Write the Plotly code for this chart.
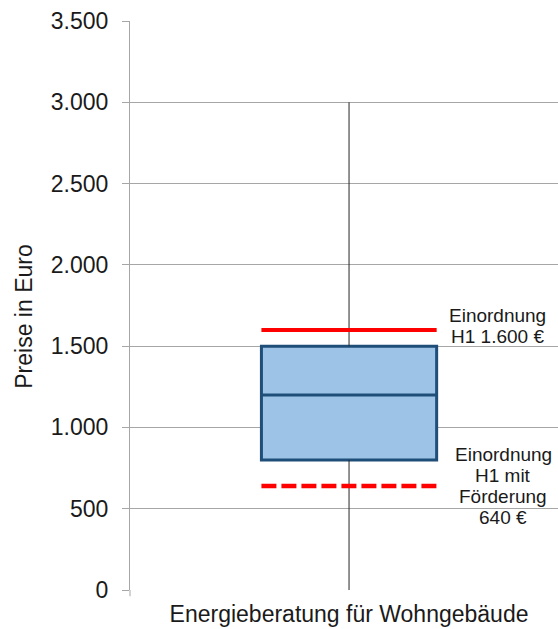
import plotly.graph_objects as go

# Price distribution for energy consulting of residential buildings (EUR)
category = "Energieberatung für Wohngebäude"
whisker_low = 0
q1 = 800
median = 1200
q3 = 1500
whisker_high = 3000

# Reference prices
ref_h1 = 1600
ref_h1_funded = 640
ref_h1_lines = ["Einordnung", "H1 1.600 €"]
ref_h1_funded_lines = ["Einordnung", "H1 mit", "Förderung", "640 €"]

y_ticks = [0, 500, 1000, 1500, 2000, 2500, 3000, 3500]
y_ticktext = ["0", "500", "1.000", "1.500", "2.000", "2.500", "3.000", "3.500"]
y_title = "Preise in Euro"

FONT = "Liberation Sans, Arial, sans-serif"
TEXT = "#1a1a1a"
BOX_FILL = "#9DC3E6"
BOX_LINE = "#1F4E79"
RED = "#FF0000"
GRID = "#A6A6A6"

half = 0.2  # half box width in axis units

fig = go.Figure()

# whiskers (below and above the box)
fig.add_trace(go.Scatter(
    x=[0, 0, None, 0, 0], y=[whisker_low, q1, None, q3, whisker_high], mode="lines",
    line=dict(color="#262626", width=1), hoverinfo="skip", showlegend=False,
))

# interquartile box
fig.add_trace(go.Bar(
    x=[0], y=[q3 - q1], base=[q1], width=[2 * half],
    marker=dict(color=BOX_FILL, line=dict(color=BOX_LINE, width=3)),
    showlegend=False, hoverinfo="skip",
))

# median
fig.add_trace(go.Scatter(
    x=[-half, half], y=[median, median], mode="lines",
    line=dict(color=BOX_LINE, width=3), hoverinfo="skip", showlegend=False,
))

# reference price lines
fig.add_trace(go.Scatter(
    x=[-half, half], y=[ref_h1, ref_h1], mode="lines",
    line=dict(color=RED, width=4), hoverinfo="skip", showlegend=False,
))
fig.add_trace(go.Scatter(
    x=[-half, half + 0.008], y=[ref_h1_funded, ref_h1_funded], mode="lines",
    line=dict(color=RED, width=4.5, dash="15px,5px"), hoverinfo="skip", showlegend=False,
))


def label_block(lines, x, y, top_shift, spacing=21):
    for i, line in enumerate(lines):
        fig.add_annotation(x=x, y=y, text=line, showarrow=False, xref="x", yref="y",
                           yshift=top_shift - i * spacing,
                           font=dict(family=FONT, size=19, color=TEXT),
                           xanchor="center", yanchor="middle")


label_block(ref_h1_lines, 0.34, ref_h1, 14)
label_block(ref_h1_funded_lines, 0.352, ref_h1_funded, 31)

# value-axis title, placed a little below the plot's vertical centre
fig.add_annotation(x=-0.248, y=0.48, xref="paper", yref="paper", text=y_title,
                   textangle=-90, showarrow=False, xanchor="center", yanchor="middle",
                   font=dict(family=FONT, size=23, color=TEXT))

# small downward extension of the value axis below the baseline
fig.add_shape(type="line", xref="paper", yref="paper", x0=0, x1=0, y0=0, y1=-0.011,
              line=dict(color=GRID, width=1))

fig.update_layout(
    width=558, height=629,
    margin=dict(l=130, r=0, t=21, b=39),
    paper_bgcolor="white", plot_bgcolor="white",
    font=dict(family=FONT, color=TEXT),
    showlegend=False,
    xaxis=dict(
        range=[-0.5, 0.477],
        tickvals=[0], ticktext=[category],
        tickfont=dict(size=23), ticks="", showgrid=False, zeroline=False,
        showline=False, ticklabelstandoff=8, automargin=False,
    ),
    yaxis=dict(
        range=[0, 3500], tickvals=y_ticks, ticktext=y_ticktext,
        tickfont=dict(size=23), ticks="outside", ticklen=7, tickcolor=GRID,
        ticklabelstandoff=9, automargin=False,
        showgrid=True, gridcolor=GRID, gridwidth=1, zeroline=False,
        showline=True, linecolor=GRID, linewidth=1,
    ),
)

fig.write_html("out.html")
